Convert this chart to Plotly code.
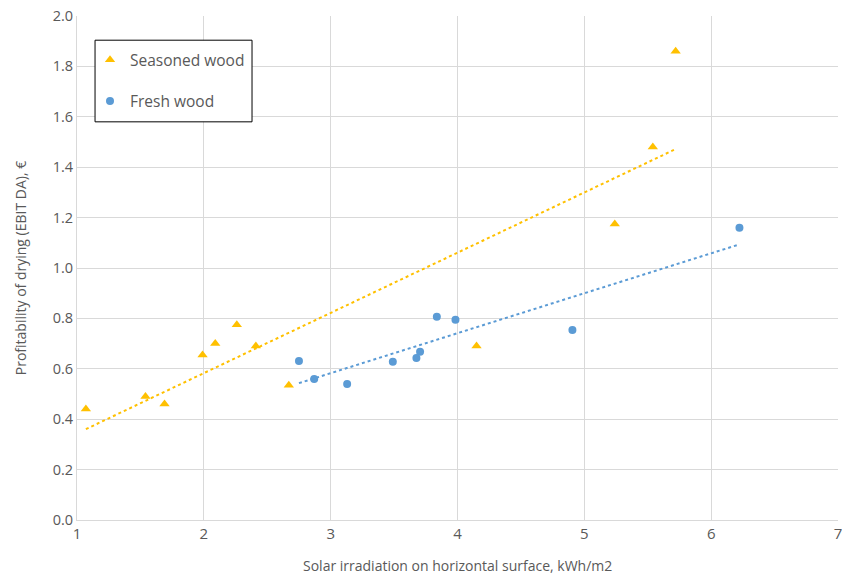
import numpy as np
import plotly.graph_objects as go

seasoned_x = [1.07, 1.54, 1.69, 1.99, 2.09, 2.26, 2.41, 2.67, 4.15, 5.24, 5.54, 5.72]
seasoned_y = [0.44, 0.49, 0.46, 0.655, 0.70, 0.775, 0.69, 0.535, 0.69, 1.175, 1.48, 1.86]
fresh_x = [2.75, 2.87, 3.13, 3.49, 3.676, 3.705, 3.837, 3.984, 4.906, 6.223]
fresh_y = [0.631, 0.56, 0.54, 0.628, 0.643, 0.668, 0.807, 0.795, 0.754, 1.16]

GOLD = "#FFC000"
BLUE = "#5B9BD5"
FONT = "Open Sans"


def trend(xs, ys):
    k, b = np.polyfit(xs, ys, 1)
    tx = [min(xs), max(xs)]
    return tx, [k * v + b for v in tx]


fig = go.Figure()
fig.add_trace(go.Scatter(x=seasoned_x, y=seasoned_y, mode="markers", name="Seasoned wood",
                         legendgroup="a",
                         marker=dict(symbol="triangle-up", size=9, color=GOLD)))
fig.add_trace(go.Scatter(x=fresh_x, y=fresh_y, mode="markers", name="Fresh wood",
                         legendgroup="b",
                         marker=dict(symbol="circle", size=8, color=BLUE)))
tx, ty = trend(seasoned_x, seasoned_y)
fig.add_trace(go.Scatter(x=tx, y=ty, mode="lines", showlegend=False,
                         line=dict(color=GOLD, width=2, dash="dot")))
tx, ty = trend(fresh_x, fresh_y)
fig.add_trace(go.Scatter(x=tx, y=ty, mode="lines", showlegend=False,
                         line=dict(color=BLUE, width=2, dash="dot")))

# legend frame
fig.add_shape(type="rect", xref="paper", yref="paper",
              x0=0.0237, x1=0.230, y0=0.790, y1=0.952,
              line=dict(color="black", width=1), fillcolor="white", layer="above")

# x-axis title
fig.add_annotation(text="Solar irradiation on horizontal surface, kWh/m2",
                   xref="paper", yref="paper", x=0.5, y=-0.0905,
                   xanchor="center", yanchor="middle", showarrow=False,
                   font=dict(family=FONT, size=14, color="#595959"))

fig.update_layout(
    width=842, height=570,
    margin=dict(l=69, r=12, t=8, b=58),
    paper_bgcolor="white", plot_bgcolor="white",
    font=dict(family=FONT, size=14, color="#595959"),
    legend=dict(x=0.0171, y=0.946, xanchor="left", yanchor="top",
                borderwidth=0, bgcolor="rgba(0,0,0,0)",
                font=dict(size=15.5, color="#595959"),
                tracegroupgap=18, traceorder="grouped"),
    xaxis=dict(range=[1, 7], dtick=1, showgrid=True, gridcolor="#D9D9D9",
               showline=True, linecolor="#D9D9D9", zeroline=False,
               automargin=False, ticklabeloverflow="allow",
               ticks="", tickfont=dict(size=15, color="#595959")),
    yaxis=dict(range=[0, 2.0], dtick=0.2, tickformat=".1f", showgrid=True,
               gridcolor="#D9D9D9", showline=True, linecolor="#D9D9D9",
               zeroline=False, automargin=False, ticklabeloverflow="allow",
               ticks="", tickfont=dict(size=14.5, color="#595959"),
               title=dict(text="Profitability of drying (EBIT DA), €",
                          font=dict(size=14, color="#595959"), standoff=22)),
)

fig.write_html("out.html")
